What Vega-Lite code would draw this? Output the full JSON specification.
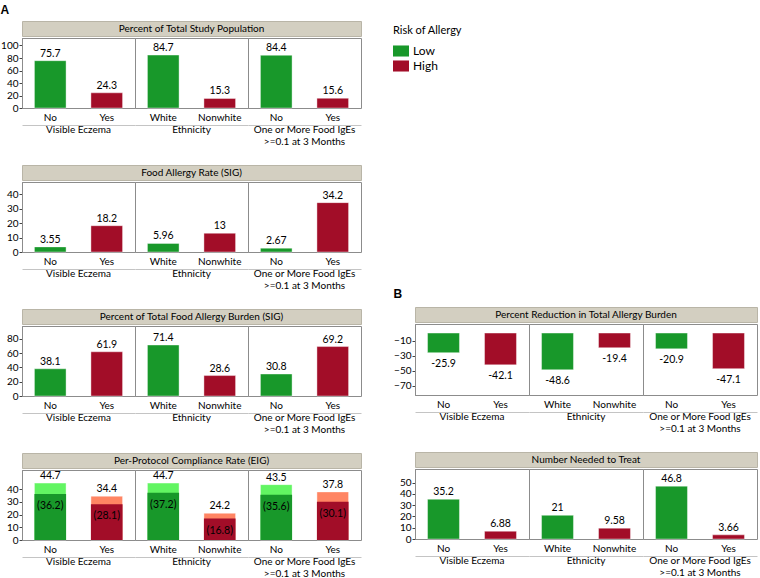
{
  "$schema": "https://vega.github.io/schema/vega-lite/v6.json",
  "padding": {"left": 0, "top": 3, "right": 0, "bottom": 0},
  "background": "white",
  "config": {
    "font": "Lato",
    "view": {"stroke": "#8c8c8c"},
    "axis": {"labelFont": "Lato", "labelFontSize": 10, "labelColor": "#000", "grid": false, "title": null},
    "text": {"font": "Lato", "fontSize": 10.5, "color": "#000"}
  },
  "datasets": {
    "pop": [
      {"group": "Visible Eczema", "cat": "No", "risk": "Low", "value": 75.7},
      {"group": "Visible Eczema", "cat": "Yes", "risk": "High", "value": 24.3},
      {"group": "Ethnicity", "cat": "White", "risk": "Low", "value": 84.7},
      {"group": "Ethnicity", "cat": "Nonwhite", "risk": "High", "value": 15.3},
      {"group": "One or More Food IgEs|>=0.1 at 3 Months", "cat": "No", "risk": "Low", "value": 84.4},
      {"group": "One or More Food IgEs|>=0.1 at 3 Months", "cat": "Yes", "risk": "High", "value": 15.6}
    ],
    "far": [
      {"group": "Visible Eczema", "cat": "No", "risk": "Low", "value": 3.55},
      {"group": "Visible Eczema", "cat": "Yes", "risk": "High", "value": 18.2},
      {"group": "Ethnicity", "cat": "White", "risk": "Low", "value": 5.96},
      {"group": "Ethnicity", "cat": "Nonwhite", "risk": "High", "value": 13},
      {"group": "One or More Food IgEs|>=0.1 at 3 Months", "cat": "No", "risk": "Low", "value": 2.67},
      {"group": "One or More Food IgEs|>=0.1 at 3 Months", "cat": "Yes", "risk": "High", "value": 34.2}
    ],
    "burden": [
      {"group": "Visible Eczema", "cat": "No", "risk": "Low", "value": 38.1},
      {"group": "Visible Eczema", "cat": "Yes", "risk": "High", "value": 61.9},
      {"group": "Ethnicity", "cat": "White", "risk": "Low", "value": 71.4},
      {"group": "Ethnicity", "cat": "Nonwhite", "risk": "High", "value": 28.6},
      {"group": "One or More Food IgEs|>=0.1 at 3 Months", "cat": "No", "risk": "Low", "value": 30.8},
      {"group": "One or More Food IgEs|>=0.1 at 3 Months", "cat": "Yes", "risk": "High", "value": 69.2}
    ],
    "comp": [
      {"group": "Visible Eczema", "cat": "No", "risk": "Low", "total": 44.7, "totalLabel": "44.7", "comp": 36.2, "compLabel": "(36.2)"},
      {"group": "Visible Eczema", "cat": "Yes", "risk": "High", "total": 34.4, "totalLabel": "34.4", "comp": 28.1, "compLabel": "(28.1)"},
      {"group": "Ethnicity", "cat": "White", "risk": "Low", "total": 44.7, "totalLabel": "44.7", "comp": 37.2, "compLabel": "(37.2)"},
      {"group": "Ethnicity", "cat": "Nonwhite", "risk": "High", "total": 21, "totalLabel": "24.2", "comp": 16.8, "compLabel": "(16.8)"},
      {"group": "One or More Food IgEs|>=0.1 at 3 Months", "cat": "No", "risk": "Low", "total": 43.5, "totalLabel": "43.5", "comp": 35.6, "compLabel": "(35.6)"},
      {"group": "One or More Food IgEs|>=0.1 at 3 Months", "cat": "Yes", "risk": "High", "total": 37.8, "totalLabel": "37.8", "comp": 30.1, "compLabel": "(30.1)"}
    ],
    "red": [
      {"group": "Visible Eczema", "cat": "No", "risk": "Low", "value": -25.9},
      {"group": "Visible Eczema", "cat": "Yes", "risk": "High", "value": -42.1},
      {"group": "Ethnicity", "cat": "White", "risk": "Low", "value": -48.6},
      {"group": "Ethnicity", "cat": "Nonwhite", "risk": "High", "value": -19.4},
      {"group": "One or More Food IgEs|>=0.1 at 3 Months", "cat": "No", "risk": "Low", "value": -20.9},
      {"group": "One or More Food IgEs|>=0.1 at 3 Months", "cat": "Yes", "risk": "High", "value": -47.1}
    ],
    "nnt": [
      {"group": "Visible Eczema", "cat": "No", "risk": "Low", "value": 35.2},
      {"group": "Visible Eczema", "cat": "Yes", "risk": "High", "value": 6.88},
      {"group": "Ethnicity", "cat": "White", "risk": "Low", "value": 21},
      {"group": "Ethnicity", "cat": "Nonwhite", "risk": "High", "value": 9.58},
      {"group": "One or More Food IgEs|>=0.1 at 3 Months", "cat": "No", "risk": "Low", "value": 46.8},
      {"group": "One or More Food IgEs|>=0.1 at 3 Months", "cat": "Yes", "risk": "High", "value": 3.66}
    ]
  },
  "spacing": 31,
  "hconcat": [
    {
      "title": {"text": "A", "anchor": "start", "font": "Liberation Sans", "fontSize": 12, "fontWeight": "bold", "color": "#000", "offset": 4},
      "spacing": 17,
      "vconcat": [
        {
          "spacing": 0,
          "vconcat": [
            {"data": {"values": [{"t": "Percent of Total Study Population"}]}, "width": 339, "height": 15, "mark": {"type": "text", "fontSize": 10}, "encoding": {"text": {"field": "t", "type": "nominal"}}, "view": {"fill": "#d3cfc1", "stroke": "#b9b5a7"}},
            {
              "data": {"name": "pop"},
              "facet": {"column": {"field": "group", "type": "nominal", "sort": ["Visible Eczema", "Ethnicity", "One or More Food IgEs|>=0.1 at 3 Months"], "header": {"title": null, "labelOrient": "bottom", "labelPadding": 17, "labelExpr": "split(datum.label, '|')", "labelFont": "Lato", "labelFontSize": 10, "labelLineHeight": 11.5, "labelBaseline": "top", "labelColor": "#000"}}},
              "spacing": 0,
              "bounds": "flush",
              "resolve": {"scale": {"x": "independent"}},
              "spec": {
                "width": 113, "height": 70,
                "encoding": {
                  "x": {"field": "cat", "type": "nominal", "sort": ["No", "Yes", "White", "Nonwhite"], "scale": {"paddingInner": 0.44, "paddingOuter": 0.22}, "axis": {"title": null, "orient": "bottom", "offset": 17, "labelPadding": -13, "ticks": false, "tickSize": 0, "domainColor": "#c4c4c4", "labelAngle": 0, "labelFontSize": 10, "labelColor": "#000"}},
                  "y": {"field": "value", "type": "quantitative", "scale": {"domain": [0, 112], "nice": false}, "axis": {"title": null, "values": [0, 20, 40, 60, 80, 100], "tickSize": 3, "labelPadding": 1, "domainColor": "#444", "tickColor": "#444", "labelFontSize": 10, "labelColor": "#000"}}
                },
                "layer": [
                  {"mark": {"type": "bar", "stroke": "#ffffff", "strokeOpacity": 0.4, "strokeWidth": 1}, "encoding": {"color": {"field": "risk", "type": "nominal", "scale": {"domain": ["Low", "High"], "range": ["#18982a", "#a20d28"]}, "legend": {"title": "Risk of Allergy", "orient": "none", "legendX": 371, "legendY": 4, "padding": 0, "titleFont": "Lato", "titleFontSize": 11, "titleFontWeight": "normal", "titleColor": "#000", "titlePadding": 7, "labelFont": "Lato", "labelFontSize": 12, "labelColor": "#000", "labelOffset": 4, "symbolType": "M-1,-0.69H1V0.69H-1Z", "symbolSize": 256, "symbolStrokeWidth": 0, "rowPadding": 1}}}},
                  {"mark": {"type": "text", "baseline": "bottom", "dy": -2}, "encoding": {"text": {"field": "value", "type": "nominal"}}}
                ]
              }
            }
          ]
        },
        {
          "spacing": 0,
          "vconcat": [
            {"data": {"values": [{"t": "Food Allergy Rate (SIG)"}]}, "width": 339, "height": 15, "mark": {"type": "text", "fontSize": 10}, "encoding": {"text": {"field": "t", "type": "nominal"}}, "view": {"fill": "#d3cfc1", "stroke": "#b9b5a7"}},
            {
              "data": {"name": "far"},
              "facet": {"column": {"field": "group", "type": "nominal", "sort": ["Visible Eczema", "Ethnicity", "One or More Food IgEs|>=0.1 at 3 Months"], "header": {"title": null, "labelOrient": "bottom", "labelPadding": 17, "labelExpr": "split(datum.label, '|')", "labelFont": "Lato", "labelFontSize": 10, "labelLineHeight": 11.5, "labelBaseline": "top", "labelColor": "#000"}}},
              "spacing": 0,
              "bounds": "flush",
              "resolve": {"scale": {"x": "independent"}},
              "spec": {
                "width": 113, "height": 70,
                "encoding": {
                  "x": {"field": "cat", "type": "nominal", "sort": ["No", "Yes", "White", "Nonwhite"], "scale": {"paddingInner": 0.44, "paddingOuter": 0.22}, "axis": {"title": null, "orient": "bottom", "offset": 17, "labelPadding": -13, "ticks": false, "tickSize": 0, "domainColor": "#c4c4c4", "labelAngle": 0, "labelFontSize": 10, "labelColor": "#000"}},
                  "y": {"field": "value", "type": "quantitative", "scale": {"domain": [0, 48.5], "nice": false}, "axis": {"title": null, "values": [0, 10, 20, 30, 40], "tickSize": 3, "labelPadding": 1, "domainColor": "#444", "tickColor": "#444", "labelFontSize": 10, "labelColor": "#000"}}
                },
                "layer": [
                  {"mark": {"type": "bar", "stroke": "#ffffff", "strokeOpacity": 0.4, "strokeWidth": 1}, "encoding": {"color": {"field": "risk", "type": "nominal", "scale": {"domain": ["Low", "High"], "range": ["#18982a", "#a20d28"]}, "legend": {"title": "Risk of Allergy", "orient": "none", "legendX": 371, "legendY": 4, "padding": 0, "titleFont": "Lato", "titleFontSize": 11, "titleFontWeight": "normal", "titleColor": "#000", "titlePadding": 7, "labelFont": "Lato", "labelFontSize": 12, "labelColor": "#000", "labelOffset": 4, "symbolType": "M-1,-0.69H1V0.69H-1Z", "symbolSize": 256, "symbolStrokeWidth": 0, "rowPadding": 1}}}},
                  {"mark": {"type": "text", "baseline": "bottom", "dy": -2}, "encoding": {"text": {"field": "value", "type": "nominal"}}}
                ]
              }
            }
          ]
        },
        {
          "spacing": 0,
          "vconcat": [
            {"data": {"values": [{"t": "Percent of Total Food Allergy Burden (SIG)"}]}, "width": 339, "height": 15, "mark": {"type": "text", "fontSize": 10}, "encoding": {"text": {"field": "t", "type": "nominal"}}, "view": {"fill": "#d3cfc1", "stroke": "#b9b5a7"}},
            {
              "data": {"name": "burden"},
              "facet": {"column": {"field": "group", "type": "nominal", "sort": ["Visible Eczema", "Ethnicity", "One or More Food IgEs|>=0.1 at 3 Months"], "header": {"title": null, "labelOrient": "bottom", "labelPadding": 17, "labelExpr": "split(datum.label, '|')", "labelFont": "Lato", "labelFontSize": 10, "labelLineHeight": 11.5, "labelBaseline": "top", "labelColor": "#000"}}},
              "spacing": 0,
              "bounds": "flush",
              "resolve": {"scale": {"x": "independent"}},
              "spec": {
                "width": 113, "height": 70,
                "encoding": {
                  "x": {"field": "cat", "type": "nominal", "sort": ["No", "Yes", "White", "Nonwhite"], "scale": {"paddingInner": 0.44, "paddingOuter": 0.22}, "axis": {"title": null, "orient": "bottom", "offset": 17, "labelPadding": -13, "ticks": false, "tickSize": 0, "domainColor": "#c4c4c4", "labelAngle": 0, "labelFontSize": 10, "labelColor": "#000"}},
                  "y": {"field": "value", "type": "quantitative", "scale": {"domain": [0, 98], "nice": false}, "axis": {"title": null, "values": [0, 20, 40, 60, 80], "tickSize": 3, "labelPadding": 1, "domainColor": "#444", "tickColor": "#444", "labelFontSize": 10, "labelColor": "#000"}}
                },
                "layer": [
                  {"mark": {"type": "bar", "stroke": "#ffffff", "strokeOpacity": 0.4, "strokeWidth": 1}, "encoding": {"color": {"field": "risk", "type": "nominal", "scale": {"domain": ["Low", "High"], "range": ["#18982a", "#a20d28"]}, "legend": {"title": "Risk of Allergy", "orient": "none", "legendX": 371, "legendY": 4, "padding": 0, "titleFont": "Lato", "titleFontSize": 11, "titleFontWeight": "normal", "titleColor": "#000", "titlePadding": 7, "labelFont": "Lato", "labelFontSize": 12, "labelColor": "#000", "labelOffset": 4, "symbolType": "M-1,-0.69H1V0.69H-1Z", "symbolSize": 256, "symbolStrokeWidth": 0, "rowPadding": 1}}}},
                  {"mark": {"type": "text", "baseline": "bottom", "dy": -2}, "encoding": {"text": {"field": "value", "type": "nominal"}}}
                ]
              }
            }
          ]
        },
        {
          "spacing": 0,
          "vconcat": [
            {"data": {"values": [{"t": "Per-Protocol Compliance Rate (EIG)"}]}, "width": 339, "height": 15, "mark": {"type": "text", "fontSize": 10}, "encoding": {"text": {"field": "t", "type": "nominal"}}, "view": {"fill": "#d3cfc1", "stroke": "#b9b5a7"}},
            {
              "data": {"name": "comp"},
              "facet": {"column": {"field": "group", "type": "nominal", "sort": ["Visible Eczema", "Ethnicity", "One or More Food IgEs|>=0.1 at 3 Months"], "header": {"title": null, "labelOrient": "bottom", "labelPadding": 17, "labelExpr": "split(datum.label, '|')", "labelFont": "Lato", "labelFontSize": 10, "labelLineHeight": 11.5, "labelBaseline": "top", "labelColor": "#000"}}},
              "spacing": 0,
              "bounds": "flush",
              "resolve": {"scale": {"x": "independent"}},
              "spec": {
                "width": 113, "height": 70,
                "encoding": {
                  "x": {"field": "cat", "type": "nominal", "sort": ["No", "Yes", "White", "Nonwhite"], "scale": {"paddingInner": 0.44, "paddingOuter": 0.22}, "axis": {"title": null, "orient": "bottom", "offset": 17, "labelPadding": -13, "ticks": false, "tickSize": 0, "domainColor": "#c4c4c4", "labelAngle": 0, "labelFontSize": 10, "labelColor": "#000"}}
                },
                "layer": [
                  {"mark": {"type": "bar", "stroke": "#ffffff", "strokeOpacity": 0.4, "strokeWidth": 1}, "encoding": {
                    "y": {"field": "total", "type": "quantitative", "scale": {"domain": [0, 55], "nice": false}, "axis": {"title": null, "values": [0, 10, 20, 30, 40], "tickSize": 3, "labelPadding": 1, "domainColor": "#444", "tickColor": "#444", "labelFontSize": 10, "labelColor": "#000"}},
                    "fill": {"condition": {"test": "datum.risk === 'Low'", "value": "#62f562"}, "value": "#ff8563"}}},
                  {"mark": {"type": "bar"}, "encoding": {
                    "y": {"field": "comp", "type": "quantitative", "axis": {"title": null, "values": [0, 10, 20, 30, 40], "tickSize": 3, "labelPadding": 1, "domainColor": "#444", "tickColor": "#444", "labelFontSize": 10, "labelColor": "#000"}},
                    "color": {"field": "risk", "type": "nominal", "scale": {"domain": ["Low", "High"], "range": ["#18982a", "#a20d28"]}, "legend": {"title": "Risk of Allergy", "orient": "none", "legendX": 371, "legendY": 4, "padding": 0, "titleFont": "Lato", "titleFontSize": 11, "titleFontWeight": "normal", "titleColor": "#000", "titlePadding": 7, "labelFont": "Lato", "labelFontSize": 12, "labelColor": "#000", "labelOffset": 4, "symbolType": "M-1,-0.69H1V0.69H-1Z", "symbolSize": 256, "symbolStrokeWidth": 0, "rowPadding": 1}}}},
                  {"mark": {"type": "text", "baseline": "bottom", "dy": -2}, "encoding": {
                    "y": {"field": "total", "type": "quantitative", "axis": {"title": null, "values": [0, 10, 20, 30, 40], "tickSize": 3, "labelPadding": 1, "domainColor": "#444", "tickColor": "#444", "labelFontSize": 10, "labelColor": "#000"}},
                    "text": {"field": "totalLabel", "type": "nominal"}}},
                  {"mark": {"type": "text", "baseline": "top", "dy": 7}, "encoding": {
                    "y": {"field": "comp", "type": "quantitative", "axis": {"title": null, "values": [0, 10, 20, 30, 40], "tickSize": 3, "labelPadding": 1, "domainColor": "#444", "tickColor": "#444", "labelFontSize": 10, "labelColor": "#000"}},
                    "text": {"field": "compLabel", "type": "nominal"}}}
                ]
              }
            }
          ]
        }
      ]
    },
    {
      "spacing": 0,
      "vconcat": [
        {"data": {"values": [{"t": ""}]}, "width": 340, "height": 266, "mark": {"type": "text"}, "encoding": {"text": {"field": "t", "type": "nominal"}}, "view": {"stroke": null}},
        {
          "title": {"text": "B", "anchor": "start", "font": "Liberation Sans", "fontSize": 12, "fontWeight": "bold", "color": "#000", "offset": 6},
          "spacing": 17,
          "vconcat": [
            {
              "spacing": 0,
              "vconcat": [
                {"data": {"values": [{"t": "Percent Reduction in Total Allergy Burden"}]}, "width": 342, "height": 15, "mark": {"type": "text", "fontSize": 10}, "encoding": {"text": {"field": "t", "type": "nominal"}}, "view": {"fill": "#d3cfc1", "stroke": "#b9b5a7"}},
                {
                  "data": {"name": "red"},
                  "facet": {"column": {"field": "group", "type": "nominal", "sort": ["Visible Eczema", "Ethnicity", "One or More Food IgEs|>=0.1 at 3 Months"], "header": {"title": null, "labelOrient": "bottom", "labelPadding": 17, "labelExpr": "split(datum.label, '|')", "labelFont": "Lato", "labelFontSize": 10, "labelLineHeight": 11.5, "labelBaseline": "top", "labelColor": "#000"}}},
                  "spacing": 0,
                  "bounds": "flush",
                  "resolve": {"scale": {"x": "independent"}},
                  "spec": {
                    "width": 114, "height": 71,
                    "encoding": {
                      "x": {"field": "cat", "type": "nominal", "sort": ["No", "Yes", "White", "Nonwhite"], "scale": {"paddingInner": 0.44, "paddingOuter": 0.22}, "axis": {"title": null, "orient": "bottom", "offset": 17, "labelPadding": -13, "ticks": false, "tickSize": 0, "domainColor": "#c4c4c4", "labelAngle": 0, "labelFontSize": 10, "labelColor": "#000"}},
                      "y": {"field": "value", "type": "quantitative", "scale": {"domain": [-82, 12], "nice": false}, "axis": {"title": null, "values": [-70, -50, -30, -10], "tickSize": 3, "labelPadding": 1, "domainColor": "#444", "tickColor": "#444", "labelFontSize": 10, "labelColor": "#000"}}
                    },
                    "layer": [
                      {"mark": {"type": "bar", "stroke": "#ffffff", "strokeOpacity": 0.4, "strokeWidth": 1}, "encoding": {"color": {"field": "risk", "type": "nominal", "scale": {"domain": ["Low", "High"], "range": ["#18982a", "#a20d28"]}, "legend": {"title": "Risk of Allergy", "orient": "none", "legendX": 371, "legendY": 4, "padding": 0, "titleFont": "Lato", "titleFontSize": 11, "titleFontWeight": "normal", "titleColor": "#000", "titlePadding": 7, "labelFont": "Lato", "labelFontSize": 12, "labelColor": "#000", "labelOffset": 4, "symbolType": "M-1,-0.69H1V0.69H-1Z", "symbolSize": 256, "symbolStrokeWidth": 0, "rowPadding": 1}}}},
                      {"mark": {"type": "text", "baseline": "top", "dy": 6}, "encoding": {"text": {"field": "value", "type": "nominal"}}}
                    ]
                  }
                }
              ]
            },
            {
              "spacing": 0,
              "vconcat": [
                {"data": {"values": [{"t": "Number Needed to Treat"}]}, "width": 342, "height": 15, "mark": {"type": "text", "fontSize": 10}, "encoding": {"text": {"field": "t", "type": "nominal"}}, "view": {"fill": "#d3cfc1", "stroke": "#b9b5a7"}},
                {
                  "data": {"name": "nnt"},
                  "facet": {"column": {"field": "group", "type": "nominal", "sort": ["Visible Eczema", "Ethnicity", "One or More Food IgEs|>=0.1 at 3 Months"], "header": {"title": null, "labelOrient": "bottom", "labelPadding": 17, "labelExpr": "split(datum.label, '|')", "labelFont": "Lato", "labelFontSize": 10, "labelLineHeight": 11.5, "labelBaseline": "top", "labelColor": "#000"}}},
                  "spacing": 0,
                  "bounds": "flush",
                  "resolve": {"scale": {"x": "independent"}},
                  "spec": {
                    "width": 114, "height": 70,
                    "encoding": {
                      "x": {"field": "cat", "type": "nominal", "sort": ["No", "Yes", "White", "Nonwhite"], "scale": {"paddingInner": 0.44, "paddingOuter": 0.22}, "axis": {"title": null, "orient": "bottom", "offset": 17, "labelPadding": -13, "ticks": false, "tickSize": 0, "domainColor": "#c4c4c4", "labelAngle": 0, "labelFontSize": 10, "labelColor": "#000"}},
                      "y": {"field": "value", "type": "quantitative", "scale": {"domain": [0, 62], "nice": false}, "axis": {"title": null, "values": [0, 10, 20, 30, 40, 50], "tickSize": 3, "labelPadding": 1, "domainColor": "#444", "tickColor": "#444", "labelFontSize": 10, "labelColor": "#000"}}
                    },
                    "layer": [
                      {"mark": {"type": "bar", "stroke": "#ffffff", "strokeOpacity": 0.4, "strokeWidth": 1}, "encoding": {"color": {"field": "risk", "type": "nominal", "scale": {"domain": ["Low", "High"], "range": ["#18982a", "#a20d28"]}, "legend": {"title": "Risk of Allergy", "orient": "none", "legendX": 371, "legendY": 4, "padding": 0, "titleFont": "Lato", "titleFontSize": 11, "titleFontWeight": "normal", "titleColor": "#000", "titlePadding": 7, "labelFont": "Lato", "labelFontSize": 12, "labelColor": "#000", "labelOffset": 4, "symbolType": "M-1,-0.69H1V0.69H-1Z", "symbolSize": 256, "symbolStrokeWidth": 0, "rowPadding": 1}}}},
                      {"mark": {"type": "text", "baseline": "bottom", "dy": -2}, "encoding": {"text": {"field": "value", "type": "nominal"}}}
                    ]
                  }
                }
              ]
            }
          ]
        }
      ]
    }
  ]
}
